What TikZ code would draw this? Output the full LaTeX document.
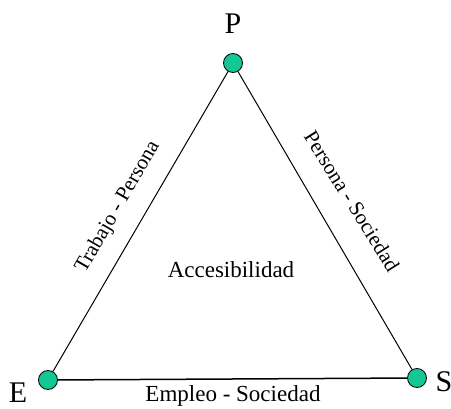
\documentclass[tikz,border=0pt]{standalone}
\usepackage{fontspec}
\setmainfont{Liberation Serif}
\begin{document}
\begin{tikzpicture}[x=1pt,y=-1pt,
  vdot/.style={circle,draw=black,line width=0.8pt,fill={rgb,255:red,20;green,200;blue,150},minimum size=19pt,inner sep=0pt},
  edge/.style={draw=black,line width=1pt},
  vlabel/.style={font=\fontsize{30}{34}\selectfont,inner sep=0pt},
  elabel/.style={font=\fontsize{21}{25}\selectfont,inner sep=0pt},
  clabel/.style={font=\fontsize{23}{27}\selectfont,inner sep=0pt}]
\useasboundingbox (0,0) rectangle (451,409);
\node[vdot] (P) at (233,63) {};
\node[vdot] (E) at (48,380) {};
\node[vdot] (S) at (417,378) {};
\draw[edge] (E) -- (P);
\draw[edge] (P) -- (S);
\draw[edge,line width=1.5pt] (E) -- (S);
\node[vlabel] (lP) at (233,24) {P};
\node[vlabel] (lE) at (18,393) {E};
\node[vlabel] (lS) at (444,382) {S};
\node[elabel,rotate=60] (tp) at (118,207) {Trabajo - Persona};
\node[elabel,rotate=-58] (ps) at (352,201) {Persona - Sociedad};
\node[clabel] (acc) at (231,270) {Accesibilidad};
\node[clabel] (es) at (233,396) {Empleo - Sociedad};
\end{tikzpicture}
\end{document}
